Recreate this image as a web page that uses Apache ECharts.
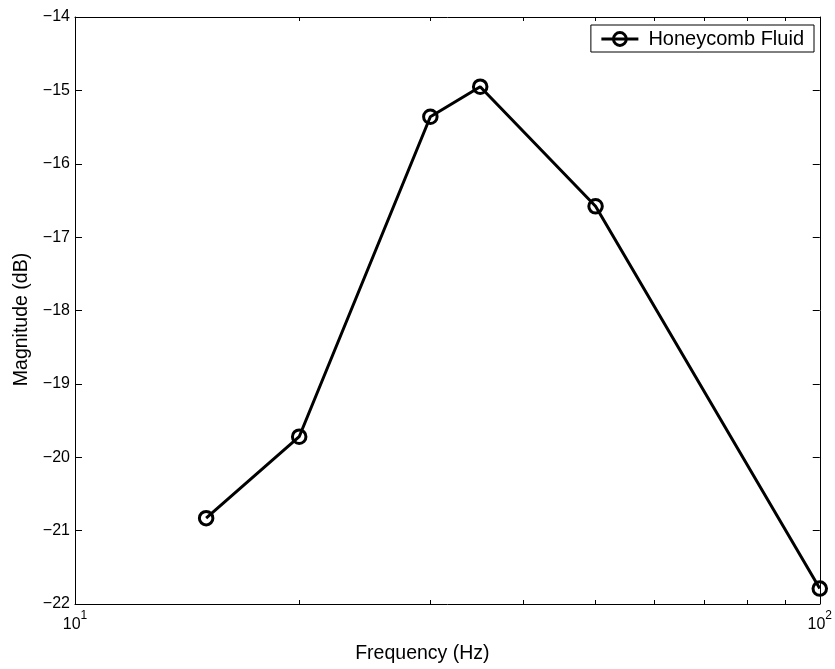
<!DOCTYPE html>
<html>
<head>
<meta charset="utf-8">
<script src="https://cdn.jsdelivr.net/npm/echarts@6/dist/echarts.min.js"></script>
<style>
html,body{margin:0;padding:0;background:#fff;}
#chart{width:835px;height:669px;}
</style>
</head>
<body>
<div id="chart"></div>
<script>
const seriesName = 'Honeycomb Fluid';
const frequency = [15, 20, 30, 35, 50, 100];
const magnitude = [-20.83, -19.72, -15.36, -14.95, -16.58, -21.79];
const xMajorTicks = [10, 100];
const xMinorTicks = [20, 30, 40, 50, 60, 70, 80, 90];
const yTicks = [-22, -21, -20, -19, -18, -17, -16, -15, -14];

const FONT = '"Liberation Sans", Arial, Helvetica, sans-serif';
const chart = echarts.init(document.getElementById('chart'), null, {renderer: 'canvas'});

const axisLineStyle = {show: true, lineStyle: {color: '#000', width: 1}};

function minusFmt(v) {
  return v < 0 ? '\u2212' + Math.abs(v) : String(v);
}

const option = {
  animation: false,
  backgroundColor: '#fff',
  grid: {left: 75, right: 12, top: 17, bottom: 62},
  legend: {
    data: [seriesName],
    right: 21,
    top: 25,
    padding: [4, 10, 3, 9],
    borderColor: '#000',
    borderWidth: 1,
    backgroundColor: '#fff',
    itemWidth: 37,
    itemHeight: 16,
    itemStyle: {color: 'rgba(0,0,0,0)', borderColor: '#000', borderWidth: 3},
    lineStyle: {color: '#000', width: 3},
    textStyle: {color: '#000', fontFamily: FONT, fontSize: 20, padding: [0, 0, 0, 5]}
  },
  xAxis: [
    {
      type: 'log', logBase: 10, min: 10, max: 100, position: 'bottom',
      axisLine: Object.assign({onZero: false}, axisLineStyle),
      axisTick: {show: true, inside: true, length: 4, lineStyle: {color: '#000'}, customValues: xMinorTicks},
      axisLabel: {
        show: true, margin: 6, customValues: xMajorTicks,
        formatter: function (v) { return '{b|10}{s|' + Math.round(Math.log10(v)) + '}'; },
        rich: {
          b: {fontSize: 16, fontFamily: FONT, color: '#000', lineHeight: 30, verticalAlign: 'middle'},
          s: {fontSize: 12, fontFamily: FONT, color: '#000', lineHeight: 12, verticalAlign: 'top'}
        }
      },
      splitLine: {show: false},
      name: 'Frequency (Hz)',
      nameLocation: 'middle',
      nameGap: 40,
      nameTextStyle: {color: '#000', fontFamily: FONT, fontSize: 19.5, padding: [0, 50, 0, 0]}
    },
    {
      type: 'log', logBase: 10, min: 10, max: 100, position: 'top',
      axisLine: Object.assign({onZero: false}, axisLineStyle),
      axisTick: {show: true, inside: true, length: 4, lineStyle: {color: '#000'}, customValues: xMinorTicks},
      axisLabel: {show: false},
      splitLine: {show: false}
    }
  ],
  yAxis: [
    {
      type: 'value', min: -22, max: -14, interval: 1, position: 'left',
      axisLine: Object.assign({onZero: false}, axisLineStyle),
      axisTick: {show: true, inside: true, length: 7, lineStyle: {color: '#000'}, customValues: yTicks},
      axisLabel: {show: true, margin: 5, color: '#000', fontFamily: FONT, fontSize: 16, formatter: minusFmt, customValues: yTicks},
      splitLine: {show: false},
      name: 'Magnitude (dB)',
      nameLocation: 'middle',
      nameGap: 42,
      nameTextStyle: {color: '#000', fontFamily: FONT, fontSize: 19.5, padding: [0, 18, 0, 0]}
    },
    {
      type: 'value', min: -22, max: -14, interval: 1, position: 'right',
      axisLine: Object.assign({onZero: false}, axisLineStyle),
      axisTick: {show: true, inside: true, length: 7, lineStyle: {color: '#000'}},
      axisLabel: {show: false},
      splitLine: {show: false}
    }
  ],
  series: [
    {
      name: seriesName,
      type: 'line',
      xAxisIndex: 0,
      yAxisIndex: 0,
      data: frequency.map((f, i) => [f, magnitude[i]]),
      symbol: 'circle',
      symbolSize: 13.5,
      clip: false,
      itemStyle: {color: 'rgba(0,0,0,0)', borderColor: '#000', borderWidth: 3},
      lineStyle: {color: '#000', width: 3}
    }
  ]
};
chart.setOption(option);
</script>
</body>
</html>
